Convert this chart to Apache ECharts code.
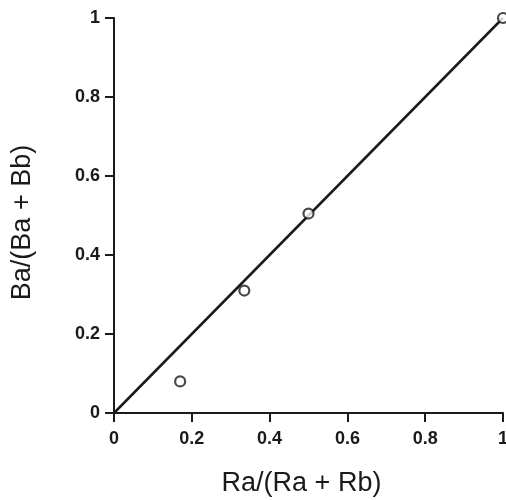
<!DOCTYPE html>
<html>
<head>
<meta charset="utf-8">
<script src="https://cdn.jsdelivr.net/npm/echarts@6/dist/echarts.min.js"></script>
<style>
  html, body { margin: 0; padding: 0; background: #fff; }
  #chart { width: 506px; height: 500px; }
</style>
</head>
<body>
<div id="chart"></div>
<script>
// measured points
var ratioR = [0.17, 0.335, 0.5, 1.0];
var ratioB = [0.08, 0.31, 0.505, 1.0];
// identity line y = x
var fitX = [0, 1];
var fitY = [0, 1];

var pts = ratioR.map(function (x, i) { return [x, ratioB[i]]; });
var fit = fitX.map(function (x, i) { return [x, fitY[i]]; });

var ink = '#1a1a1a';
var font = 'Liberation Sans, Arial, sans-serif';

var chart = echarts.init(document.getElementById('chart'));
chart.setOption({
    animation: false,
    grid: { left: 114, right: 3, top: 18, bottom: 87, outerBoundsMode: 'none' },
    xAxis: {
        type: 'value',
        min: 0, max: 1, interval: 0.2,
        name: 'Ra/(Ra + Rb)',
        nameLocation: 'middle',
        nameGap: 57,
        nameTextStyle: { fontSize: 27, color: ink, fontFamily: font, padding: [0, 14, 0, 0] },
        axisLine: { show: true, lineStyle: { color: ink, width: 2 } },
        axisTick: { show: true, length: 9, lineStyle: { color: ink, width: 2 } },
        axisLabel: { fontSize: 18, fontWeight: 'bold', margin: 17, color: ink, fontFamily: font },
        splitLine: { show: false }
    },
    yAxis: {
        type: 'value',
        min: 0, max: 1, interval: 0.2,
        name: 'Ba/(Ba + Bb)',
        nameLocation: 'middle',
        nameGap: 78,
        nameTextStyle: { fontSize: 27, color: ink, fontFamily: font, padding: [0, 14, 0, 0] },
        axisLine: { show: true, lineStyle: { color: ink, width: 2 } },
        axisTick: { show: true, length: 9, lineStyle: { color: ink, width: 2 } },
        axisLabel: { fontSize: 18, fontWeight: 'bold', margin: 14, color: ink, fontFamily: font },
        splitLine: { show: false }
    },
    series: [
        {
            type: 'line',
            data: fit,
            symbol: 'none',
            lineStyle: { color: ink, width: 2.5 },
            z: 2
        },
        {
            type: 'scatter',
            data: pts,
            symbol: 'circle',
            symbolSize: 10,
            itemStyle: { color: '#fff', borderColor: ink, borderWidth: 2.2 },
            z: 3
        }
    ]
});
</script>
</body>
</html>
